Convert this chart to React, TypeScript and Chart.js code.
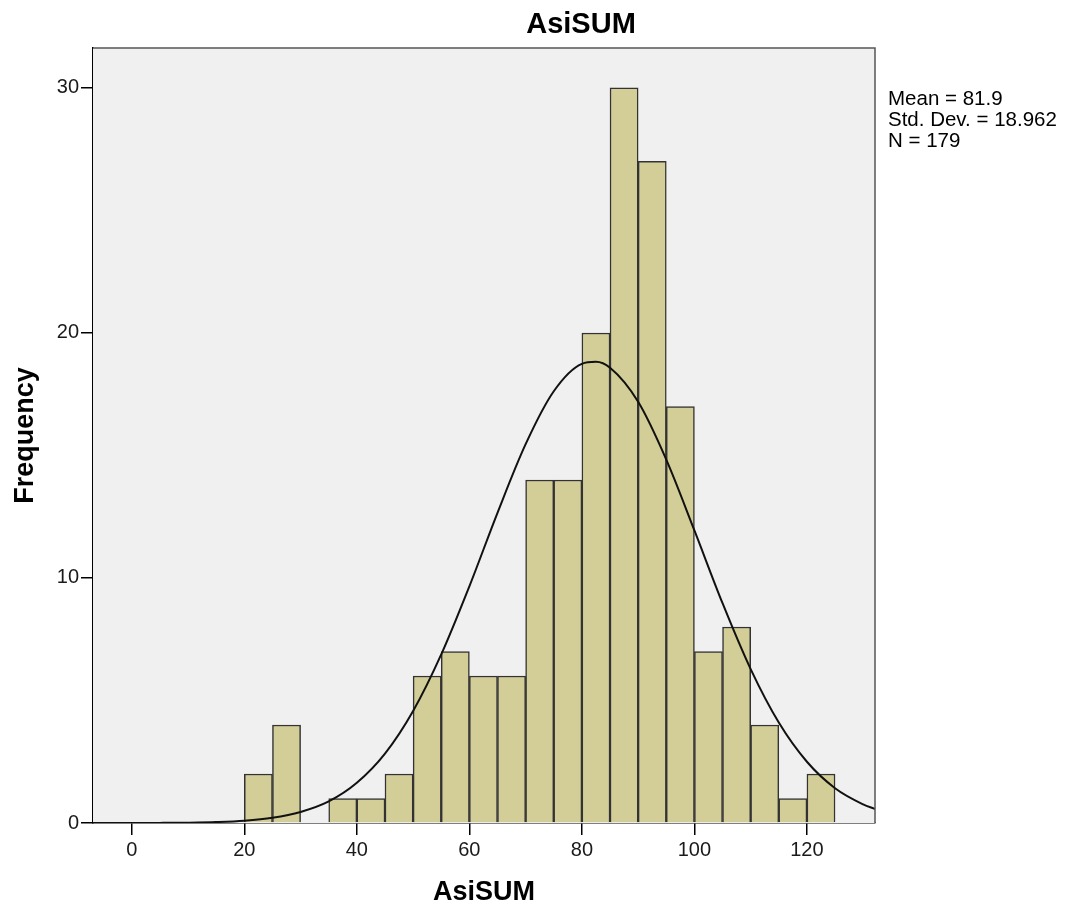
import React, { useEffect, useRef } from "react";
import { Chart, registerables } from "chart.js";

Chart.register(...registerables);

// Histogram bins (midpoints of 5-unit bins) and frequencies
const binMidpoints = [22.5, 27.5, 32.5, 37.5, 42.5, 47.5, 52.5, 57.5, 62.5, 67.5, 72.5, 77.5, 82.5, 87.5, 92.5, 97.5, 102.5, 107.5, 112.5, 117.5, 122.5];
const frequencies = [2, 4, 0, 1, 1, 2, 6, 7, 6, 6, 14, 14, 20, 30, 27, 17, 7, 8, 4, 1, 2];

// Fitted normal curve
const curveX = [-6.9, -5, 0, 5, 10, 15, 20, 25, 30, 35, 40, 45, 50, 55, 60, 65, 70, 75, 80, 82.5, 85, 90, 95, 100, 105, 110, 115, 120, 125, 130, 132.1];
const curveY = [0.0003, 0.0005, 0.002, 0.005, 0.014, 0.037, 0.09, 0.21, 0.45, 0.88, 1.64, 2.83, 4.57, 6.88, 9.66, 12.66, 15.46, 17.62, 18.74, 18.82, 18.58, 17.19, 14.83, 11.94, 8.97, 6.28, 4.1, 2.5, 1.42, 0.76, 0.57];

const xTicks = [0, 20, 40, 60, 80, 100, 120];
const yTicks = [0, 10, 20, 30];
const statsLines = ["Mean = 81.9", "Std. Dev. = 18.962", "N = 179"];
const chartTitle = "AsiSUM";
const xTitle = "AsiSUM";
const yTitle = "Frequency";

const FONT = 'Arial, "Liberation Sans", sans-serif';

export default function App() {
  const ref = useRef<HTMLCanvasElement | null>(null);

  useEffect(() => {
    if (!ref.current) return;

    const decor = {
      id: "decor",
      beforeDatasetsDraw(chart: any) {
        const { ctx, chartArea: a } = chart;
        ctx.save();
        ctx.fillStyle = "#F0F0F0";
        ctx.fillRect(a.left, a.top, a.right - a.left, a.bottom - a.top);
        ctx.restore();
      },
      afterDraw(chart: any) {
        const { ctx, chartArea: a } = chart;
        ctx.save();
        // frame
        ctx.strokeStyle = "#555";
        ctx.lineWidth = 1.5;
        ctx.beginPath();
        ctx.moveTo(a.left, a.top);
        ctx.lineTo(a.right, a.top);
        ctx.lineTo(a.right, a.bottom);
        ctx.stroke();
        // title
        ctx.fillStyle = "#000";
        ctx.font = `bold 29px ${FONT}`;
        ctx.textAlign = "center";
        ctx.textBaseline = "middle";
        ctx.fillText(chartTitle, (a.left + chart.width) / 2, 25);
        // stats
        ctx.font = `20.5px ${FONT}`;
        ctx.textAlign = "left";
        statsLines.forEach((t, i) => {
          ctx.fillText(t, a.right + 13, 99 + i * 21);
        });
        ctx.restore();
      },
    };

    const chart = new Chart(ref.current, {
      data: {
        datasets: [
          {
            type: "line",
            data: curveX.map((x, i) => ({ x, y: curveY[i] })),
            borderColor: "#111",
            borderWidth: 2,
            pointRadius: 0,
            fill: false,
            cubicInterpolationMode: "monotone",
            order: 0,
          } as any,
          {
            type: "bar",
            data: binMidpoints.map((x, i) => ({ x, y: frequencies[i] })),
            backgroundColor: "#D3CE97",
            borderColor: "#333",
            borderWidth: 1.5,
            barPercentage: 1,
            categoryPercentage: 1,
            order: 1,
          } as any,
        ],
      },
      options: {
        responsive: false,
        animation: false,
        layout: { padding: { left: 0, top: 48, right: 194, bottom: 0 } },
        plugins: {
          legend: { display: false },
          tooltip: { enabled: false },
          title: { display: false },
        },
        scales: {
          x: {
            type: "linear",
            min: -6.9,
            max: 132.1,
            offset: false,
            afterBuildTicks: (s: any) => {
              s.ticks = xTicks.map((v) => ({ value: v }));
            },
            afterFit: (s: any) => {
              s.height = 90;
            },
            ticks: { color: "#1a1a1a", font: { family: FONT, size: 20 }, padding: 3, maxRotation: 0, autoSkip: false },
            grid: { offset: false, drawOnChartArea: false, drawTicks: true, tickLength: 12, color: "#000", lineWidth: 1.5 },
            border: { display: true, color: "#000", width: 1.5 },
            title: { display: true, text: xTitle, color: "#000", font: { family: FONT, size: 27, weight: "bold" }, padding: { top: 0, bottom: 4 } },
          },
          y: {
            type: "linear",
            min: 0,
            max: 31.63,
            afterBuildTicks: (s: any) => {
              s.ticks = yTicks.map((v) => ({ value: v }));
            },
            afterFit: (s: any) => {
              s.width = 93;
            },
            ticks: { color: "#1a1a1a", font: { family: FONT, size: 20 }, padding: 2, autoSkip: false },
            grid: { drawOnChartArea: false, drawTicks: true, tickLength: 12, color: "#000", lineWidth: 1.5 },
            border: { display: true, color: "#000", width: 1.5 },
            title: { display: true, text: yTitle, color: "#000", font: { family: FONT, size: 27, weight: "bold" }, padding: { top: 9, bottom: 0 } },
          },
        },
      },
      plugins: [decor],
    } as any);

    return () => chart.destroy();
  }, []);

  return (
    <div style={{ position: "absolute", left: 0, top: 0, width: 1069, height: 913, background: "#fff" }}>
      <canvas ref={ref} width={1069} height={913} style={{ width: 1069, height: 913 }} />
    </div>
  );
}
